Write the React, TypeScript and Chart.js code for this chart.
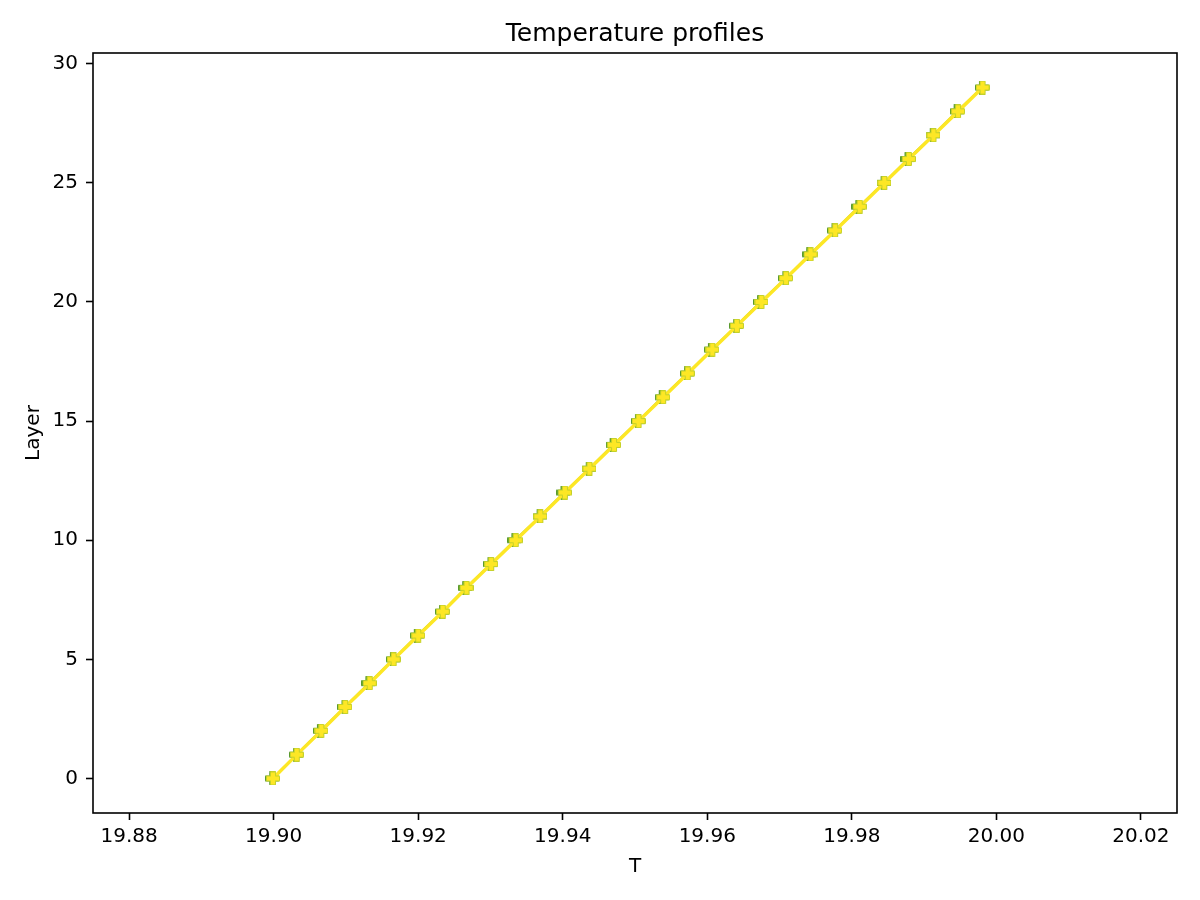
import React, { useEffect, useRef } from "react";
import { Chart, registerables } from "chart.js";

Chart.register(...registerables);

const layers = [0, 1, 2, 3, 4, 5, 6, 7, 8, 9, 10, 11, 12, 13, 14, 15, 16, 17, 18, 19, 20, 21, 22, 23, 24, 25, 26, 27, 28, 29];

const tempFinal = [
  19.8999, 19.9032, 19.9066, 19.9099, 19.9133, 19.9166, 19.9200, 19.9234, 19.9267, 19.9301,
  19.9335, 19.9369, 19.9403, 19.9437, 19.9471, 19.9505, 19.9539, 19.9573, 19.9607, 19.9641,
  19.9675, 19.9709, 19.9743, 19.9777, 19.9811, 19.9845, 19.9879, 19.9913, 19.9947, 19.9981,
];

const tempEarlier = [
  19.8998, 19.9031, 19.9064, 19.9098, 19.9131, 19.9165, 19.9198, 19.9233, 19.9265, 19.9300,
  19.9333, 19.9368, 19.9401, 19.9436, 19.9469, 19.9504, 19.9537, 19.9572, 19.9605, 19.9640,
  19.9673, 19.9708, 19.9741, 19.9776, 19.9809, 19.9844, 19.9877, 19.9912, 19.9945, 19.9980,
];

const xTicks = [19.88, 19.9, 19.92, 19.94, 19.96, 19.98, 20.0, 20.02];
const yTicks = [0, 5, 10, 15, 20, 25, 30];

const FONT = "'DejaVu Sans', sans-serif";

function makePlus(size: number, arm: number, fill: string, stroke: string) {
  const c = document.createElement("canvas");
  c.width = size;
  c.height = size;
  const g = c.getContext("2d")!;
  const a = (size - arm) / 2;
  const b = a + arm;
  g.beginPath();
  g.moveTo(a, 0.5);
  g.lineTo(b, 0.5);
  g.lineTo(b, a);
  g.lineTo(size - 0.5, a);
  g.lineTo(size - 0.5, b);
  g.lineTo(b, b);
  g.lineTo(b, size - 0.5);
  g.lineTo(a, size - 0.5);
  g.lineTo(a, b);
  g.lineTo(0.5, b);
  g.lineTo(0.5, a);
  g.lineTo(a, a);
  g.closePath();
  g.fillStyle = fill;
  g.fill();
  g.lineWidth = 1;
  g.strokeStyle = stroke;
  g.stroke();
  return c;
}

const boxPlugin = {
  id: "boxPlugin",
  afterDraw(chart: any) {
    const { ctx, chartArea } = chart;
    ctx.save();
    ctx.strokeStyle = "#000";
    ctx.lineWidth = 1.6;
    ctx.strokeRect(chartArea.left, chartArea.top, chartArea.right - chartArea.left, chartArea.bottom - chartArea.top);
    ctx.restore();
  },
};

export default function App() {
  const ref = useRef<HTMLCanvasElement | null>(null);

  useEffect(() => {
    if (!ref.current) return;
    const plusYellow = makePlus(14, 5, "#fde725", "#c4d12a");
    const plusGreen = makePlus(14, 5, "#7fb52e", "#5a9a2c");
    const chart = new Chart(ref.current, {
      type: "line",
      data: {
        datasets: [
          {
            label: "final",
            data: layers.map((l, i) => ({ x: tempFinal[i], y: l })),
            borderColor: "#fde725",
            borderWidth: 3.5,
            pointStyle: plusYellow as any,
            pointRadius: 7,
            fill: false,
            tension: 0,
            order: 0,
          },
          {
            label: "earlier",
            data: layers.map((l, i) => ({ x: tempEarlier[i], y: l })),
            borderColor: "#3d8a2e",
            borderWidth: 1.2,
            pointStyle: plusGreen as any,
            pointRadius: 7,
            fill: false,
            tension: 0,
            order: 1,
          },
        ],
      },
      options: {
        responsive: false,
        animation: false,
        devicePixelRatio: 1,
        layout: { padding: { left: 0, right: 23, top: 0, bottom: 0 } },
        plugins: {
          legend: { display: false },
          tooltip: { enabled: false },
          title: {
            display: true,
            fullSize: false,
            text: "Temperature profiles",
            color: "#000",
            font: { family: FONT, size: 25, weight: "normal" },
            padding: { top: 19, bottom: 4 },
          },
        },
        scales: {
          x: {
            type: "linear",
            min: 19.875,
            max: 20.025,
            afterBuildTicks: (s: any) => {
              s.ticks = xTicks.map((v) => ({ value: v }));
            },
            afterFit: (s: any) => {
              s.height = 87;
            },
            ticks: {
              color: "#000",
              font: { family: FONT, size: 20 },
              padding: 5,
              maxRotation: 0,
              autoSkip: false,
              callback: (v: any) => Number(v).toFixed(2),
            },
            grid: {
              display: true,
              drawOnChartArea: false,
              drawTicks: true,
              tickLength: 7,
              tickWidth: 1.6,
              tickColor: "#000",
            },
            border: { display: false },
            title: {
              display: true,
              text: "T",
              color: "#000",
              font: { family: FONT, size: 20 },
              padding: { top: 0, bottom: 21 },
            },
          },
          y: {
            type: "linear",
            min: -1.45,
            max: 30.45,
            afterBuildTicks: (s: any) => {
              s.ticks = yTicks.map((v) => ({ value: v }));
            },
            afterFit: (s: any) => {
              s.width = 93;
            },
            ticks: {
              color: "#000",
              font: { family: FONT, size: 20 },
              padding: 8,
              autoSkip: false,
              callback: (v: any) => String(v),
            },
            grid: {
              display: true,
              drawOnChartArea: false,
              drawTicks: true,
              tickLength: 7,
              tickWidth: 1.6,
              tickColor: "#000",
            },
            border: { display: false },
            title: {
              display: true,
              text: "Layer",
              color: "#000",
              font: { family: FONT, size: 20 },
              padding: { top: 22, bottom: 0 },
            },
          },
        },
      },
      plugins: [boxPlugin],
    });
    return () => chart.destroy();
  }, []);

  return (
    <div style={{ position: "absolute", left: 0, top: 0, width: 1200, height: 900, background: "#fff" }}>
      <canvas ref={ref} width={1200} height={900} style={{ width: 1200, height: 900, display: "block" }} />
    </div>
  );
}
